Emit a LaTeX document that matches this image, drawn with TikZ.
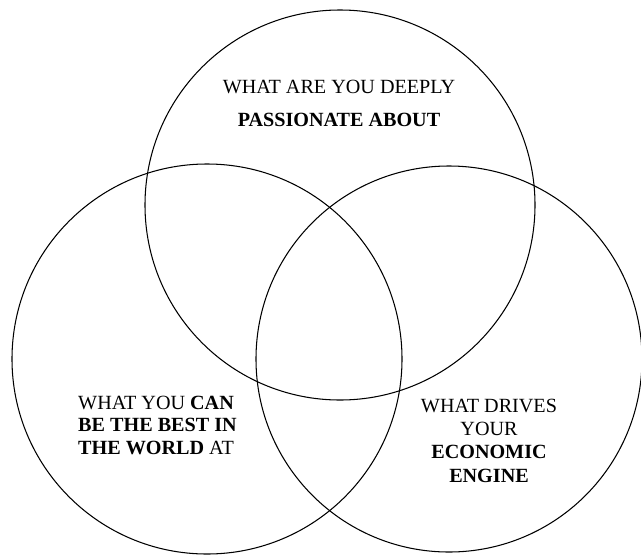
\documentclass[tikz,border=0pt]{standalone}
\usepackage{fontspec}
\setmainfont{Liberation Serif}
\usepackage{tikz}

\tikzset{
  venn/.style={draw=black,circle,line width=0.9pt,inner sep=0pt,minimum size=#1},
  lbl/.style={inner sep=0pt},
}

\begin{document}
\begin{tikzpicture}[x=0.03cm,y=-0.03cm]
\useasboundingbox (0,0) rectangle (641,554);
% the three circles
\node[venn=11.7cm] (passion) at (340,205) {};
\node[venn=11.7cm] (best) at (207,359) {};
\node[venn=11.58cm] (engine) at (449,359) {};
% labels (base = last line)
\node[lbl,align=center,anchor=base,font=\fontsize{17.2}{27.8}\selectfont] (passiontxt) at (339,126)
  {WHAT ARE YOU DEEPLY\\\textbf{PASSIONATE ABOUT}};
\node[lbl,align=left,anchor=base west,font=\fontsize{17.2}{18.8}\selectfont] (besttxt) at (78,454)
  {WHAT YOU \textbf{CAN}\\\textbf{BE THE BEST IN}\\\textbf{THE WORLD} AT};
\node[lbl,align=center,anchor=base,font=\fontsize{17.2}{19.9}\selectfont] (enginetxt) at (489,482)
  {WHAT DRIVES\\YOUR\\\textbf{ECONOMIC}\\\textbf{ENGINE}};
\end{tikzpicture}
\end{document}
